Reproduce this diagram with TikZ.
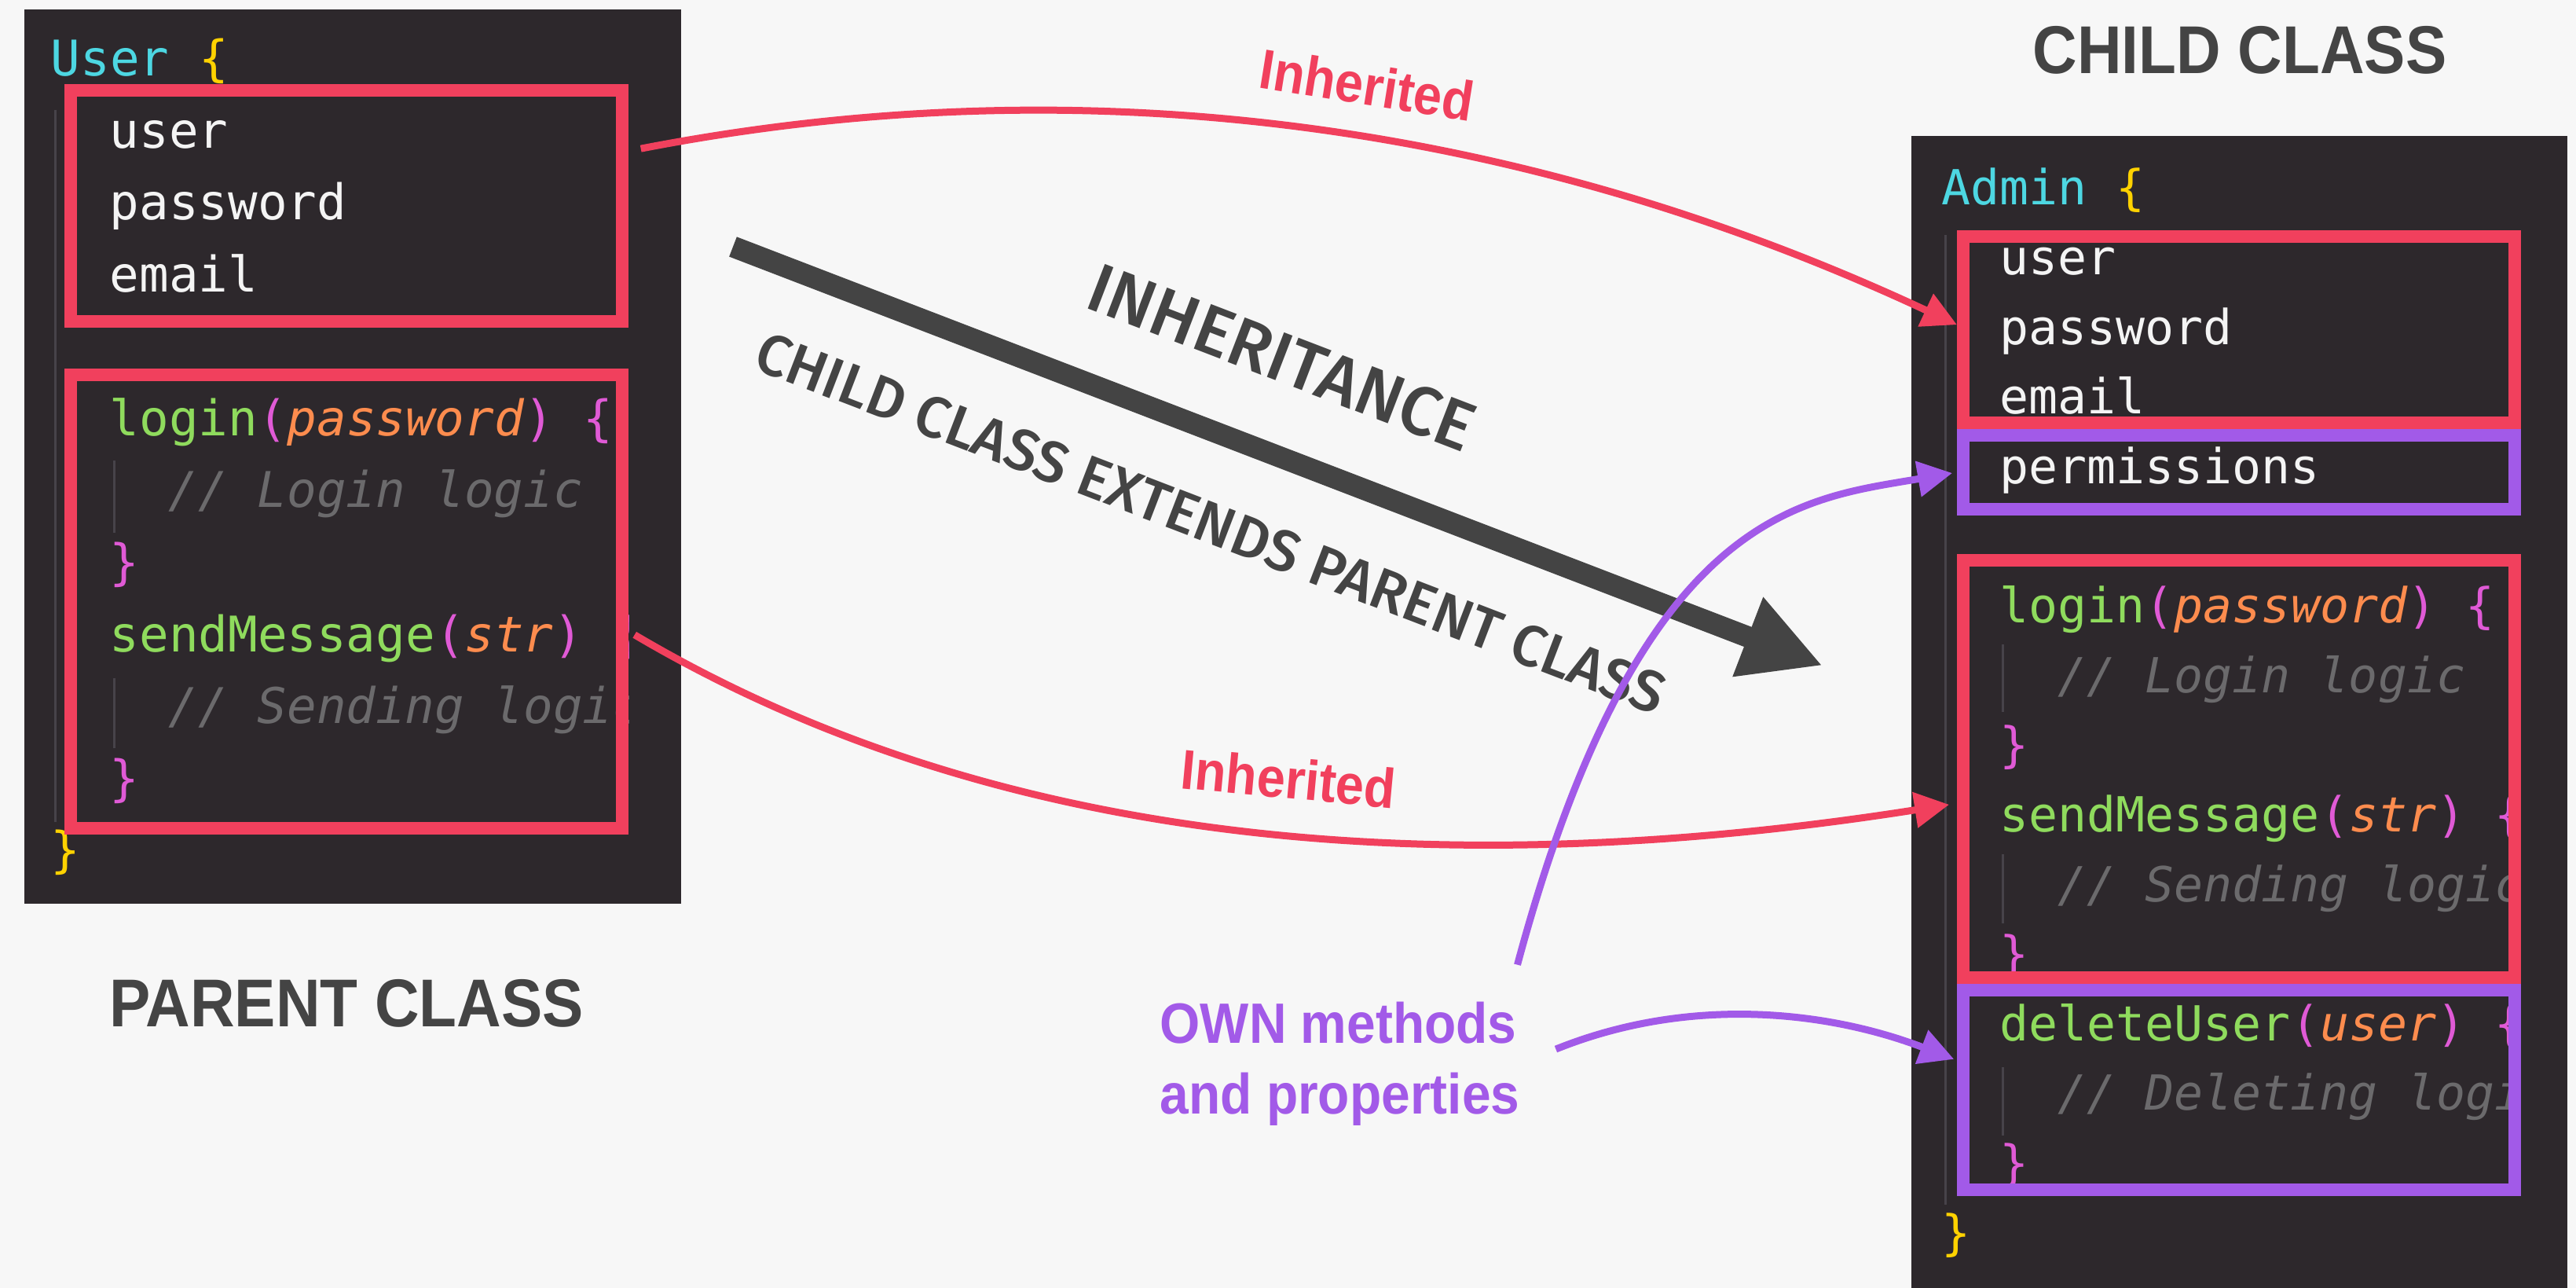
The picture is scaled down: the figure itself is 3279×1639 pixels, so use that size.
\documentclass[tikz,border=0pt]{standalone}
\usepackage{fontspec}
\setmainfont[FakeStretch=0.91]{Liberation Sans}
\newfontfamily\medfont[UprightFont=* Medium]{Fira Sans}
\newfontfamily\codefont{DejaVu Sans Mono}
\usetikzlibrary{arrows.meta}

\definecolor{pagebg}{HTML}{F7F7F7}
\definecolor{panelbg}{HTML}{2D282C}
\definecolor{guidegrey}{HTML}{47434A}
\definecolor{codered}{HTML}{F1405D}
\definecolor{codepurple}{HTML}{A25AE8}
\definecolor{headgrey}{HTML}{444444}
\definecolor{codewhite}{HTML}{F4F4F4}
\definecolor{codecyan}{HTML}{4DD7E2}
\definecolor{codeyellow}{HTML}{FFD200}
\definecolor{codegreen}{HTML}{8FDB5D}
\definecolor{codepink}{HTML}{E05AD6}
\definecolor{codeorange}{HTML}{FD8C4E}
\definecolor{codegrey}{HTML}{6B6A6C}

\newcommand{\cname}[1]{\textcolor{codecyan}{#1}}
\newcommand{\cfunc}[1]{\textcolor{codegreen}{#1}}
\newcommand{\cparam}[1]{\textcolor{codeorange}{\itshape #1}}
\newcommand{\cpunct}[1]{\textcolor{codepink}{#1}}
\newcommand{\ccomment}[1]{\textcolor{codegrey}{\itshape #1}}

\begin{document}
\begin{tikzpicture}[x=0.1mm, y=-0.1mm,
  panel/.style={fill=panelbg, inner sep=0pt, minimum width=83.6mm},
  redbox/.style={draw=codered, line width=1.6mm, inner sep=0pt, minimum width=70.2mm},
  purplebox/.style={draw=codepurple, line width=1.6mm, inner sep=0pt, minimum width=70.2mm},
  codeleft/.style={anchor=base west, inner sep=0pt, text=codewhite, font=\codefont\fontsize{17.8pt}{20pt}\selectfont},
  coderight/.style={anchor=base west, inner sep=0pt, text=codewhite, font=\codefont\fontsize{17.5pt}{20pt}\selectfont},
  guide/.style={draw=guidegrey, line width=0.3mm},
  heading/.style={anchor=base, inner sep=0pt, text=headgrey, font=\bfseries\fontsize{24.5pt}{28pt}\selectfont},
  inheritlabel/.style={inner sep=0pt, text=codered, font=\bfseries\fontsize{20.3pt}{24pt}\selectfont},
  ownlabel/.style={anchor=north west, align=left, inner sep=0pt, text=codepurple, font=\bfseries\fontsize{20.6pt}{25.6pt}\selectfont},
  inhtitle/.style={inner sep=0pt, text=headgrey, font=\medfont\fontsize{25pt}{28pt}\selectfont},
  inhsub/.style={inner sep=0pt, text=headgrey, font=\medfont\fontsize{21pt}{24pt}\selectfont},
  redarrow/.style={draw=codered, line width=0.9mm, -{Triangle[length=4.4mm,width=4.4mm]}},
  purplearrow/.style={draw=codepurple, line width=0.9mm, -{Triangle[length=4.4mm,width=4.4mm]}},
  bigarrow/.style={draw=headgrey, line width=2.7mm, -{Triangle[length=10.2mm,width=10.1mm]}}]

\fill[pagebg] (0,0) rectangle (3279,1639);
\useasboundingbox (0,0) rectangle (3279,1639);

% code panels
\node[panel, minimum height=113.8mm] (userpanel) at (449,581) {};
\node[panel, minimum height=146.6mm, minimum width=83.5mm] (adminpanel) at (2850.5,906) {};

% indent guides
\draw[guide] (70,140) -- (70,1046);
\draw[guide] (145,586) -- (145,678);
\draw[guide] (145,863) -- (145,952);
\draw[guide] (2476,299) -- (2476,1533);
\draw[guide] (2549,820) -- (2549,906);
\draw[guide] (2549,1087) -- (2549,1175);
\draw[guide] (2549,1358) -- (2549,1445);

% parent class code
\begin{scope}
\clip (31,12) rectangle (800,1150);
\node[codeleft] (u0) at (64,97) {\cname{User} \textcolor{codeyellow}{\{}};
\node[codeleft] (u1) at (139,188.5) {user};
\node[codeleft] (u2) at (139,280) {password};
\node[codeleft] (u3) at (139,371.5) {email};
\node[codeleft] (u5) at (139,554.5) {\cfunc{login}\cpunct{(}\cparam{password}\cpunct{)} \cpunct{\{}};
\node[codeleft] (u6) at (214,646) {\ccomment{// Login logic}};
\node[codeleft] (u7) at (139,737.5) {\cpunct{\}}};
\node[codeleft] (u8) at (139,829) {\cfunc{sendMessage}\cpunct{(}\cparam{str}\cpunct{)} \cpunct{\{}};
\node[codeleft] (u9) at (214,920.5) {\ccomment{// Sending logic}};
\node[codeleft] (u10) at (139,1012) {\cpunct{\}}};
\node[codeleft] (u11) at (64,1103.5) {\textcolor{codeyellow}{\}}};
\end{scope}

% child class code
\begin{scope}
\clip (2433,173) rectangle (3213,1639);
\node[coderight] (a0) at (2471,261) {\cname{Admin} \textcolor{codeyellow}{\{}};
\node[coderight] (a1) at (2545,349.6) {user};
\node[coderight] (a2) at (2545,438.2) {password};
\node[coderight] (a3) at (2545,526.8) {email};
\node[coderight] (a4) at (2545,615.4) {permissions};
\node[coderight] (a6) at (2545,792.6) {\cfunc{login}\cpunct{(}\cparam{password}\cpunct{)} \cpunct{\{}};
\node[coderight] (a7) at (2619,881.2) {\ccomment{// Login logic}};
\node[coderight] (a8) at (2545,969.8) {\cpunct{\}}};
\node[coderight] (a9) at (2545,1058.4) {\cfunc{sendMessage}\cpunct{(}\cparam{str}\cpunct{)} \cpunct{\{}};
\node[coderight] (a10) at (2619,1147) {\ccomment{// Sending logic}};
\node[coderight] (a11) at (2545,1235.6) {\cpunct{\}}};
\node[coderight] (a12) at (2545,1324.2) {\cfunc{deleteUser}\cpunct{(}\cparam{user}\cpunct{)} \cpunct{\{}};
\node[coderight] (a13) at (2619,1412.8) {\ccomment{// Deleting logic}};
\node[coderight] (a14) at (2545,1501.4) {\cpunct{\}}};
\node[coderight] (a15) at (2471,1590) {\textcolor{codeyellow}{\}}};
\end{scope}

% highlight boxes
\node[redbox, minimum height=29.4mm] (ufields) at (441,262) {};
\node[redbox, minimum height=57.7mm] (ubody) at (441,765.5) {};
\node[redbox, minimum height=23.7mm] (afields) at (2850,419.5) {};
\node[purplebox, minimum height=9.4mm] (aperm) at (2850,601) {};
\node[redbox, minimum height=53.15mm] (abody) at (2850,978.25) {};
\node[purplebox, minimum height=25.4mm] (adelete) at (2850,1387) {};

% titles
\node[heading] (childtitle) at (2851,94) {CHILD CLASS};
\node[heading] (parenttitle) at (441,1306) {PARENT CLASS};

% inheritance arrow
\coordinate (inhfrom) at (933,314);
\coordinate (inhto) at (2320,847);
\draw[bigarrow] (inhfrom) -- (inhto)
  node[pos=0.473, sloped, above=7.4mm, inhtitle] (inhtext) {INHERITANCE}
  node[pos=0.467, sloped, below=7mm, inhsub] (extendtext) {CHILD CLASS EXTENDS PARENT CLASS};

% inherited members
\draw[redarrow, shorten <=1.6mm] (ufields.11) .. controls +(588,-114) and +(-544,-254) .. (afields.179)
  node[pos=0.54, sloped, above=3.7mm, inheritlabel] (inhfields) {Inherited};
\draw[redarrow, shorten <=0.9mm, shorten >=1mm] (ubody.-6) .. controls +(474,280) and +(-642,101) .. (abody.-173)
  node[pos=0.53, sloped, above=4mm, inheritlabel] (inhmethods) {Inherited};

% own members
\node[ownlabel] (own) at (1476,1274) {OWN methods\\and properties};
\draw[purplearrow, shorten <=4.8mm, shorten >=0.6mm] ([xshift=-1.6mm]own.north east) .. controls +(169,-628) and +(-197,34) .. (aperm.west);
\draw[purplearrow, shorten <=4.9mm, shorten >=0.4mm] (own.east) .. controls +(213,-86) and +(-168,-64) .. (adelete.174);

\end{tikzpicture}
\end{document}
